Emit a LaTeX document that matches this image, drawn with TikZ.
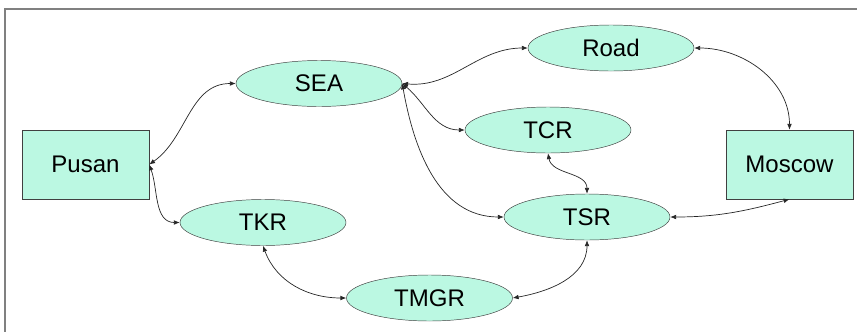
\documentclass[tikz,border=0pt]{standalone}
\usepackage{fontspec}
\setmainfont{Liberation Sans}
\usetikzlibrary{shapes.geometric,arrows.meta}
\definecolor{mint}{RGB}{187,248,226}
\tikzset{
    city-box/.style = {draw=black!75, fill=mint, thin, rectangle, minimum width=3.81cm, minimum height=2.07cm, font=\fontsize{20.5}{24}\selectfont},
    route-ellipse/.style = {draw=black!75, fill=mint, thin, ellipse, minimum width=4.98cm, minimum height=1.38cm, font=\fontsize{20.5}{24}\selectfont},
    link/.style = {{Latex[length=5pt,width=4pt]}-{Latex[length=5pt,width=4pt]}, line width=0.6pt, black!85},
}

\begin{document}
\begin{tikzpicture}[x=0.03cm, y=-0.03cm]
\useasboundingbox (0,0) rectangle (857,331);
\draw[gray, line width=1.2pt] (5,340) |- (870,9);

\node[city-box] (pusan) at (85.5,164.5) {Pusan};
\node[city-box] (moscow) at (789.5,164.5) {Moscow};
\node[route-ellipse] (sea) at (319,83.5) {SEA};
\node[route-ellipse] (tkr) at (263,222.5) {TKR};
\node[route-ellipse] (tmgr) at (429.5,298) {TMGR};
\node[route-ellipse] (road) at (611,48) {Road};
\node[route-ellipse] (tcr) at (548,130) {TCR};
\node[route-ellipse] (tsr) at (587,217) {TSR};

\draw[link] (pusan.east) to[out=35,in=180] (sea.west);
\draw[link] (pusan.east) to[out=-70,in=180] (tkr.west);
\draw[link] (tkr.south) to[out=-70,in=180] (tmgr.west);
\draw[link] (tmgr.east) to[out=10,in=-90] (tsr.south);
\draw[link] (sea.east) to[out=-5,in=180] (road.west);
\draw[link] (sea.east) to[out=-40,in=180] (tcr.west);
\draw[link] (sea.east) to[out=-80,in=180] (tsr.west);
\draw[link] (tcr.south) to[out=-80,in=90] (tsr.north);
\draw[link] (road.east) to[out=0,in=90] (moscow.north);
\draw[link] (moscow.south) to[out=195,in=0] (tsr.east);
\end{tikzpicture}
\end{document}
